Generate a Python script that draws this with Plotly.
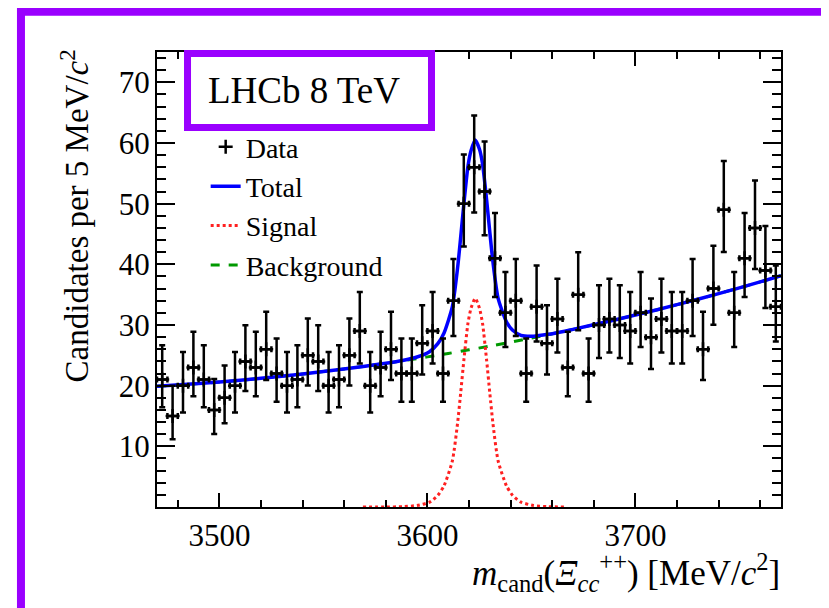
import numpy as np
import plotly.graph_objects as go

# ---------------- data ----------------
mass_centres = [3472.5, 3477.5, 3482.5, 3487.5, 3492.5, 3497.5, 3502.5, 3507.5, 3512.5, 3517.5,
                3522.5, 3527.5, 3532.5, 3537.5, 3542.5, 3547.5, 3552.5, 3557.5, 3562.5, 3567.5,
                3572.5, 3577.5, 3582.5, 3587.5, 3592.5, 3597.5, 3602.5, 3607.5, 3612.5, 3617.5,
                3622.5, 3627.5, 3632.5, 3637.5, 3642.5, 3647.5, 3652.5, 3657.5, 3662.5, 3667.5,
                3672.5, 3677.5, 3682.5, 3687.5, 3692.5, 3697.5, 3702.5, 3707.5, 3712.5, 3717.5,
                3722.5, 3727.5, 3732.5, 3737.5, 3742.5, 3747.5, 3752.5, 3757.5, 3762.5, 3767.5]
counts = [21, 15, 20, 23, 21, 16, 18, 20, 24, 23,
          26, 22, 20, 21, 25, 24, 20, 21, 25, 29,
          20, 23, 26, 22, 22, 27, 29, 22, 34, 50,
          56, 52, 41, 32, 34, 22, 33, 27, 31, 23,
          35, 22, 30, 31, 30, 29, 32, 28, 31, 29,
          29, 34, 26, 36, 49, 32, 41, 46, 39, 33]
bin_half_width = 2.5

# fit curves
total_mass = [3470, 3490, 3510, 3530, 3550, 3570, 3580, 3588, 3595, 3601, 3605, 3608, 3612,
              3614.5, 3616, 3617.5, 3619.5, 3621, 3623, 3625, 3626.5, 3628.5, 3630, 3631.5,
              3634, 3638, 3641, 3645, 3651, 3658, 3666, 3670, 3690, 3710, 3730, 3750, 3770]
total_vals = [19.9, 20.34, 20.89, 21.56, 22.33, 23.21, 23.69, 24.15, 24.72, 25.6, 26.92, 28.69, 33.02,
              39.37, 44.46, 49.85, 56.17, 58.76, 60.48, 59.01, 56.6, 50.53, 45.32, 40.42,
              34.38, 30.54, 29.14, 28.3, 28.16, 28.46, 28.98, 29.28, 30.83, 32.48, 34.25, 36.12, 38.11]

signal_mass = [3569, 3580, 3588, 3595, 3601, 3605, 3608, 3612, 3614.5, 3616, 3617.5, 3619.5, 3621,
               3623, 3625, 3626.5, 3628.5, 3630, 3631.5, 3634, 3638, 3641, 3645, 3651, 3658, 3666]
signal_vals = [0.0, 0.0, 0.05, 0.25, 0.8, 1.9, 3.5, 7.6, 13.8, 18.8, 24.1, 30.3, 32.8,
               34.4, 32.8, 30.3, 24.1, 18.8, 13.8, 7.6, 3.5, 1.9, 0.8, 0.25, 0.05, 0.0]

bkg_mass = [3470, 3490, 3510, 3530, 3550, 3570, 3590, 3610, 3630, 3650, 3670, 3690, 3710, 3730, 3750, 3770]
bkg_vals = [19.9, 20.34, 20.89, 21.56, 22.33, 23.21, 24.2, 25.31, 26.52, 27.85, 29.28, 30.83, 32.48, 34.25, 36.12, 38.11]

x_tick_vals = [3500, 3600, 3700]
y_tick_vals = [10, 20, 30, 40, 50, 60, 70]

# Poisson (Gehrels) error bars derived from the counts
n = np.array(counts, dtype=float)
err_hi = np.sqrt(n + 0.75) + 1.0
err_lo = n - n * (1.0 - 1.0 / (9.0 * n) - 1.0 / (3.0 * np.sqrt(n))) ** 3

FONT = "Liberation Serif"
PURPLE = "#9a00ff"

fig = go.Figure()
fig.add_trace(go.Scatter(x=bkg_mass, y=bkg_vals, mode="lines", name="Background", legendrank=4,
                         line=dict(color="#009900", width=3, dash="dash", shape="spline", smoothing=0.8)))
fig.add_trace(go.Scatter(x=total_mass, y=total_vals, mode="lines", name="Total", legendrank=2,
                         line=dict(color="#0000ff", width=3.5, shape="spline", smoothing=0.6)))
fig.add_trace(go.Scatter(x=signal_mass, y=signal_vals, mode="lines", name="Signal", legendrank=3,
                         line=dict(color="#ff2020", width=3, dash="dot", shape="spline", smoothing=0.6)))
fig.add_trace(go.Scatter(x=mass_centres, y=counts, mode="markers", name="Data", legendrank=1,
                         marker=dict(color="black", size=10, symbol="cross-thin",
                                     line=dict(color="black", width=2.5)),
                         error_y=dict(type="data", symmetric=False, array=err_hi, arrayminus=err_lo,
                                      color="black", thickness=2.5, width=3),
                         error_x=dict(type="constant", value=bin_half_width, color="black",
                                      thickness=2.5, width=3)))

axis_common = dict(showline=True, linecolor="black", linewidth=2, mirror="allticks",
                   ticks="inside", tickcolor="black", tickwidth=2, showgrid=False, zeroline=False,
                   tickfont=dict(family=FONT, size=31, color="black"))

fig.update_xaxes(range=[3470, 3770], tickvals=x_tick_vals, ticklen=14,
                 minor=dict(dtick=20, tick0=3460, ticks="inside", ticklen=7, tickwidth=2, tickcolor="black"),
                 **axis_common)
fig.update_yaxes(range=[0, 75], tickvals=y_tick_vals, ticklen=18, ticklabelstandoff=-1,
                 minor=dict(dtick=2, tick0=0, ticks="inside", ticklen=9, tickwidth=2, tickcolor="black"),
                 **axis_common)

# the page body adds an 8 px offset; figure is sized so the plot area sits where the reference has it
fig.update_layout(
    width=821, height=600,
    margin=dict(l=149, r=48, t=44, b=101),
    paper_bgcolor="white", plot_bgcolor="white",
    font=dict(family=FONT, color="black"),
    showlegend=True,
    legend=dict(x=0.078, y=0.846, xanchor="left", yanchor="top", bgcolor="rgba(0,0,0,0)",
                font=dict(family=FONT, size=28, color="black"), itemwidth=30,
                tracegroupgap=0),
    shapes=[
        dict(type="rect", xref="paper", yref="paper", x0=-0.218, x1=1.25, y0=-0.45, y1=1.0885,
             line=dict(color=PURPLE, width=8), fillcolor="rgba(0,0,0,0)", layer="above"),
        dict(type="rect", xref="paper", yref="paper", x0=0.0489, x1=0.4399, y0=0.834, y1=0.9967,
             line=dict(color=PURPLE, width=7), fillcolor="white", layer="above"),
    ],
    annotations=[
        dict(text="LHCb 8 TeV", xref="paper", yref="paper", x=0.2348, y=0.915,
             xanchor="center", yanchor="middle", showarrow=False,
             font=dict(family=FONT, size=37, color="black")),
        dict(text="Candidates per 5 MeV/<i>c</i><sup>2</sup>", xref="paper", yref="paper",
             x=-0.1314, y=1.009, xanchor="center", yanchor="top", textangle=-90, showarrow=False,
             font=dict(family=FONT, size=33, color="black")),
        dict(text="<i>m</i><sub>cand</sub>(<i>Ξ</i><sub><i>cc</i></sub><sup>++</sup>) [MeV/<i>c</i><sup>2</sup>]",
             xref="paper", yref="paper", x=1.0016, y=-0.145, xanchor="right", yanchor="middle",
             showarrow=False, font=dict(family=FONT, size=35, color="black")),
    ],
)

fig.write_html("out.html")
